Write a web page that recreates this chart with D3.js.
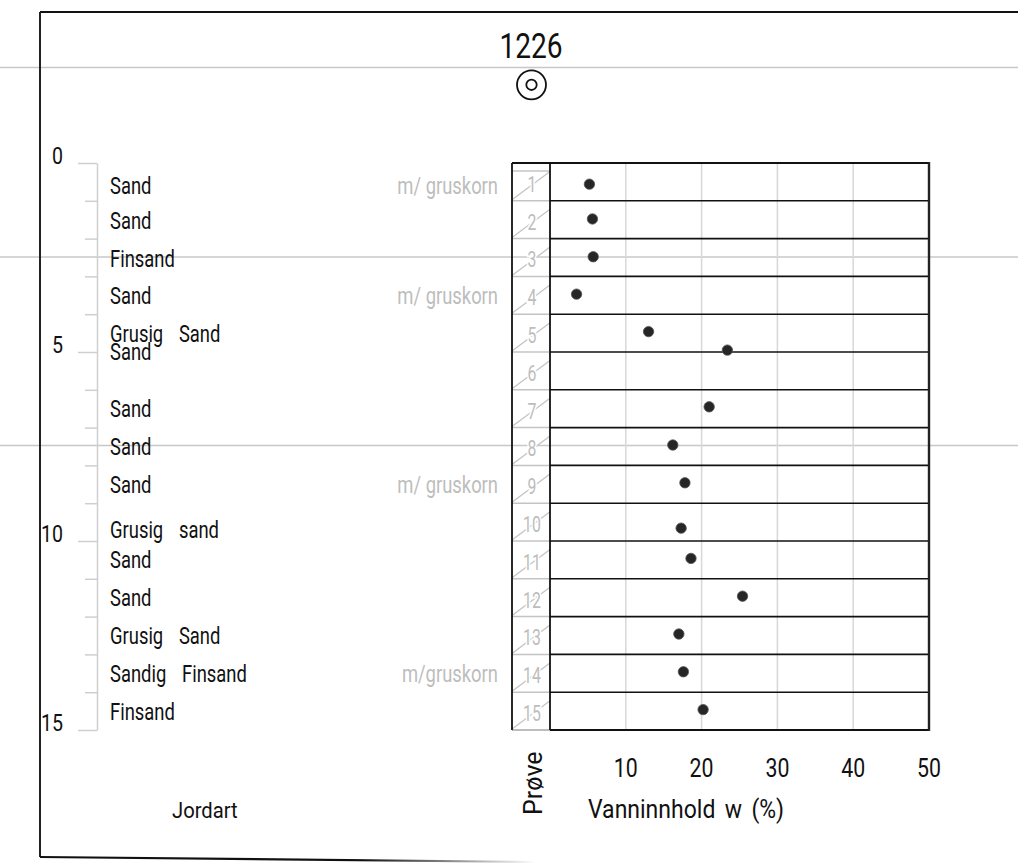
<!DOCTYPE html>
<html>
<head>
<meta charset="utf-8">
<script src="https://cdn.jsdelivr.net/npm/d3@7"></script>
<style>
  html, body { margin: 0; padding: 0; background: #fff; }
  svg { display: block; }
  text { font-family: Roboto, "DejaVu Sans", sans-serif; font-weight: 400; }
</style>
</head>
<body>
<svg id="chart" width="1018" height="863"></svg>
<script>
// ---------------- data ----------------
const title = "1226";
const samples = [1, 2, 3, 4, 5, 6, 7, 8, 9, 10, 11, 12, 13, 14, 15];
const soilTypes = ["Sand", "Sand", "Finsand", "Sand", "Grusig Sand", "Sand", "Sand", "Sand", "Sand",
                   "Grusig sand", "Sand", "Sand", "Grusig Sand", "Sandig Finsand", "Finsand"];
const notes = ["m/ gruskorn", "", "", "m/ gruskorn", "", "", "", "", "m/ gruskorn", "", "", "", "", "m/gruskorn", ""];
const sampleDepth = [0.56, 1.48, 2.48, 3.47, 4.46, 4.95, 6.45, 7.46, 8.46, 9.66, 10.46, 11.46, 12.46, 13.46, 14.46];
const waterContent = [5.2, 5.6, 5.7, 3.5, 13.0, 23.4, 21.0, 16.2, 17.8, 17.3, 18.6, 25.4, 17.0, 17.6, 20.2];
const waterTicks = [10, 20, 30, 40, 50];
const depthMajorTicks = [0, 5, 10, 15];
const depthDomain = [0, 15];
const waterDomain = [0, 50];
const xLabel = "Vanninnhold w (%)";
const sampleLabel = "Prøve";
const soilLabel = "Jordart";

// ---------------- layout ----------------
const svg = d3.select("#chart");
const y = d3.scaleLinear().domain(depthDomain).range([163, 730]);
const x = d3.scaleLinear().domain(waterDomain).range([550, 929]);
const colL = 512, colR = 550;
const SX = 0.8; // horizontal condensing of text (technical drawing font)

function txt(g, px, py, s, o = {}) {
  return g.append("text")
    .attr("transform", `translate(${px},${py})` + (o.rot ? ` rotate(${o.rot})` : "") + ` scale(${o.sx ?? SX},1)`)
    .attr("text-anchor", o.anchor || "start")
    .attr("font-size", o.size || 23)
    .attr("font-weight", o.weight || 400)
    .attr("fill", o.fill || "#111")
    .text(s);
}

// grey sheet lines
const sheet = svg.append("g");
[67.5, 257, 445.5].forEach(v => sheet.append("line")
  .attr("x1", 0).attr("x2", 1018).attr("y1", v).attr("y2", v)
  .attr("stroke", "#c8c8c8").attr("stroke-width", 1.5));

// frame
const defs = svg.append("defs");
const grad = defs.append("linearGradient").attr("id", "fade").attr("gradientUnits", "userSpaceOnUse")
  .attr("x1", 40).attr("x2", 535).attr("y1", 0).attr("y2", 0);
grad.append("stop").attr("offset", "0.65").attr("stop-color", "#111");
grad.append("stop").attr("offset", "1").attr("stop-color", "#111").attr("stop-opacity", 0);
svg.append("line").attr("x1", 40).attr("x2", 1018).attr("y1", 12).attr("y2", 12)
  .attr("stroke", "#111").attr("stroke-width", 2);
svg.append("line").attr("x1", 40).attr("x2", 40).attr("y1", 12).attr("y2", 857)
  .attr("stroke", "#222").attr("stroke-width", 2);
svg.append("path").attr("d", "M40,857 L535,862").attr("stroke", "url(#fade)")
  .attr("stroke-width", 2.2).attr("fill", "none");

// title + symbol
txt(svg, 531, 57.7, title, { size: 36, anchor: "middle", sx: 0.78, weight: 300 });
svg.append("circle").attr("cx", 531.5).attr("cy", 84.8).attr("r", 14.5)
  .attr("fill", "none").attr("stroke", "#111").attr("stroke-width", 1.8);
svg.append("circle").attr("cx", 531.5).attr("cy", 84.8).attr("r", 5.2)
  .attr("fill", "none").attr("stroke", "#111").attr("stroke-width", 1.8);

// depth axis
const depthAxis = d3.axisLeft(y)
  .tickValues(d3.range(depthDomain[0], depthDomain[1] + 1))
  .tickSize(12).tickSizeOuter(0).tickFormat("");
const ga = svg.append("g").attr("transform", "translate(97,0)").call(depthAxis);
ga.select(".domain").attr("stroke", "#cfcfcf").attr("stroke-width", 1.5);
ga.selectAll(".tick line").attr("stroke", "#cfcfcf").attr("stroke-width", 1.5)
  .attr("x2", d => depthMajorTicks.includes(d) ? -19 : -12);
depthMajorTicks.forEach(d => txt(svg, 63, y(d) + 0.5, d, { size: 23, anchor: "end", sx: 0.85, weight: 300 }));

// grid (grey verticals)
const gGrid = svg.append("g");
waterTicks.filter(t => t < waterDomain[1]).forEach(t => gGrid.append("line")
  .attr("x1", x(t)).attr("x2", x(t)).attr("y1", y(depthDomain[0])).attr("y2", y(depthDomain[1]))
  .attr("stroke", "#d8d8d8").attr("stroke-width", 1.5));

// sample column
const gCol = svg.append("g");
d3.range(1, samples.length + 1).forEach(i => gCol.append("line")
  .attr("x1", colL).attr("x2", colR).attr("y1", y(i)).attr("y2", y(i))
  .attr("stroke", "#c4c4c4").attr("stroke-width", 1.5));
gCol.append("line").attr("x1", colL).attr("x2", colR).attr("y1", y(0) + 8).attr("y2", y(0) + 8)
  .attr("stroke", "#c4c4c4").attr("stroke-width", 1.5);
samples.forEach((s, i) => {
  const top = y(i), bot = y(i + 1);
  gCol.append("line").attr("x1", colL).attr("y1", bot - 1).attr("x2", colR).attr("y2", top + 8.5)
    .attr("stroke", "#c4c4c4").attr("stroke-width", 1.3);
  txt(gCol, 532, bot - 9, s, { size: 22, anchor: "middle", fill: "#bdbdbd", sx: 0.72, weight: 300 })
    .attr("stroke", "#fff").attr("stroke-width", 4).attr("paint-order", "stroke");
});

// row lines in data area
const gRows = svg.append("g");
d3.range(1, samples.length).forEach(i => gRows.append("line")
  .attr("x1", colR).attr("x2", x(waterDomain[1])).attr("y1", y(i)).attr("y2", y(i))
  .attr("stroke", "#111").attr("stroke-width", 1.6));
// box borders
gRows.append("line").attr("x1", colL).attr("x2", x(waterDomain[1])).attr("y1", y(0)).attr("y2", y(0))
  .attr("stroke", "#111").attr("stroke-width", 1.8);
gRows.append("line").attr("x1", colR).attr("x2", x(waterDomain[1])).attr("y1", y(15)).attr("y2", y(15))
  .attr("stroke", "#111").attr("stroke-width", 1.8);
gRows.append("line").attr("x1", colL).attr("x2", colR).attr("y1", y(15)).attr("y2", y(15))
  .attr("stroke", "#bdbdbd").attr("stroke-width", 1.8);
[colL, colR].forEach(v => gRows.append("line").attr("x1", v).attr("x2", v)
  .attr("y1", y(0)).attr("y2", y(15)).attr("stroke", "#111").attr("stroke-width", 1.8));
gRows.append("line").attr("x1", x(waterDomain[1])).attr("x2", x(waterDomain[1]))
  .attr("y1", y(0) - 1).attr("y2", y(15) + 1).attr("stroke", "#222").attr("stroke-width", 2.4);

// soil labels & notes
const gLab = svg.append("g");
soilTypes.forEach((s, i) => txt(gLab, 110, y(sampleDepth[i]) + 10, s, { size: 23 })
  .attr("word-spacing", 14));
notes.forEach((n, i) => { if (n) txt(gLab, 498, y(sampleDepth[i]) + 10, n, { size: 23, anchor: "end", fill: "#bdbdbd", weight: 300 }); });

// points
svg.append("g").selectAll("circle").data(waterContent).join("circle")
  .attr("cx", d => x(d)).attr("cy", (d, i) => y(sampleDepth[i])).attr("r", 5.2)
  .attr("fill", "#262626").attr("stroke", "#555").attr("stroke-width", 0.8);

// x tick labels
waterTicks.forEach(t => txt(svg, x(t), 777, t, { size: 26, anchor: "middle", sx: 0.82, weight: 300 }));
txt(svg, 588, 818, xLabel, { size: 25, sx: 0.92, weight: 300 }).attr("word-spacing", 4);
txt(svg, 541.5, 815, sampleLabel, { size: 25, sx: 1.0, rot: -90, weight: 300 });
txt(svg, 172, 818, soilLabel, { size: 22, sx: 0.92 });
</script>
</body>
</html>
